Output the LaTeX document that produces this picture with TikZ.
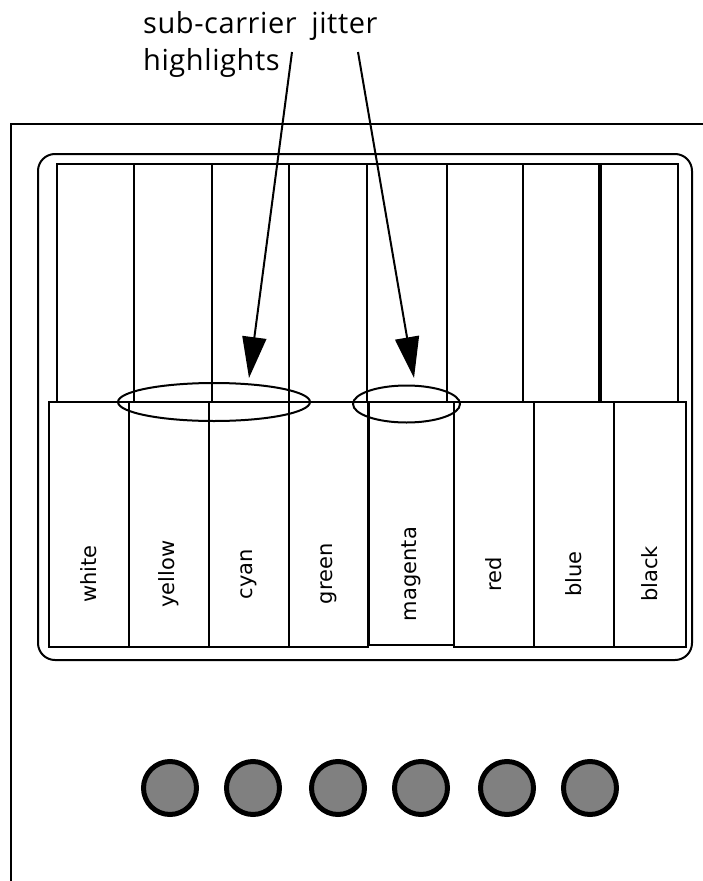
\documentclass[tikz,border=0pt]{standalone}
\usepackage{fontspec}
\setmainfont{Open Sans}
\newfontfamily\calloutfont{Open Sans}[LetterSpace=2,WordSpace=1.8]
\newfontfamily\keyfont{DejaVu Sans}
\usetikzlibrary{arrows.meta,shapes.geometric}

\definecolor{knobgray}{RGB}{128,128,128}

\tikzset{
  stroke/.style={line width=2pt, draw=black},
  upperkey/.style={stroke, rectangle, inner sep=0pt, outer sep=0pt, fill=white},
  lowerkey/.style={stroke, rectangle, inner sep=0pt, outer sep=0pt, fill=white},
  keylabel/.style={rotate=90, inner sep=0pt, font=\keyfont\fontsize{21}{21}\selectfont},
  highlight/.style={stroke, ellipse, inner sep=0pt, outer sep=0pt},
  pointer/.style={line width=2pt, -{Triangle[length=41pt,width=24pt]}},
  knob/.style={circle, draw=black, line width=5pt, fill=knobgray, minimum size=53pt, inner sep=0pt},
  callout/.style={anchor=base west, inner sep=0pt, font=\calloutfont\fontsize{29}{29}\selectfont}
}

\begin{document}
\begin{tikzpicture}[x=1pt,y=-1pt]
\useasboundingbox (0,0) rectangle (703,881);

% housing outline
\draw[stroke] (11,890) -- (11,124) -- (712,124);

% bezel around the key bank
\draw[stroke, rounded corners=17pt] (38,154) rectangle (692,660);

% upper (back) keys
\foreach \a/\b [count=\i] in {57/134,134/212,212/289,289/367,367/447,447/523,523/600,600/678}{
  \pgfmathsetmacro{\w}{\b-\a}
  \pgfmathsetmacro{\c}{(\a+\b)/2}
  \node[upperkey, minimum width=\w pt, minimum height=238pt] (u\i) at (\c,283) {};
}
\draw[line width=3.5pt] (u8.north west) -- (u8.south west);

% lower (front) keys with their colour names
\foreach \a/\b/\nm/\h in {49/129/white/245,129/209/yellow/245,209/289/cyan/245,289/368/green/245,
                          369/454/magenta/243,454/534/red/245,534/614/blue/245,614/686/black/245}{
  \pgfmathsetmacro{\w}{\b-\a}
  \pgfmathsetmacro{\c}{(\a+\b)/2}
  \pgfmathsetmacro{\m}{402+\h/2}
  \node[lowerkey, minimum width=\w pt, minimum height=\h pt] (k-\nm) at (\c,\m) {};
  \node[keylabel] (l-\nm) at (\c,574) {\nm};
}

% highlight rings
\node[highlight, minimum width=192pt, minimum height=38pt] (ringA) at (214,402) {};
\node[highlight, minimum width=107pt, minimum height=37pt] (ringB) at (406.5,404) {};

% callout text
\node[callout] (callA) at (143,33) {sub-carrier jitter};
\node[callout] (callB) at (143,70) {highlights};

% pointers
\coordinate (srcA) at (292,52);
\coordinate (srcB) at (358,52);
\coordinate (tipA) at (249,378);
\coordinate (tipB) at (414,378);
\draw[pointer] (srcA) -- (tipA);
\draw[pointer] (srcB) -- (tipB);

% knobs
\foreach \x [count=\i] in {170,253,338,421,507,590}{
  \node[knob] (knob\i) at (\x,788) {};
}
\end{tikzpicture}
\end{document}
